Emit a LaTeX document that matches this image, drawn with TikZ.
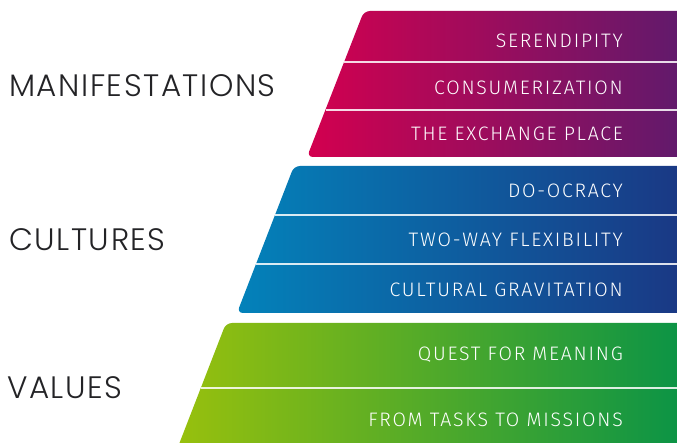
\documentclass[tikz,border=0pt]{standalone}
\usepackage{fontspec}
\newfontfamily\labelfont{Poppins Light}[LetterSpace=5]
\newfontfamily\rowfont{Fira Sans Light}[LetterSpace=9]

% block colours
\definecolor{magL}{RGB}{211,0,79}
\definecolor{magR}{RGB}{91,27,109}
\definecolor{bluL}{RGB}{3,130,186}
\definecolor{bluR}{RGB}{27,53,130}
\definecolor{grnL}{RGB}{154,193,12}
\definecolor{grnR}{RGB}{6,146,72}
\definecolor{labeltext}{RGB}{35,35,38}

\begin{document}
\begin{tikzpicture}[x=1pt,y=-1pt,
  block/.style={rounded corners=6pt},
  divider/.style={draw=white, draw opacity=0.85, line width=1.1pt},
  rowtext/.style={anchor=east, inner sep=0pt, text=white,
    font=\rowfont\fontsize{19.5}{21}\selectfont},
  grouplabel/.style={anchor=west, inner sep=0pt, text=labeltext,
    font=\labelfont\fontsize{31}{33}\selectfont}]
\useasboundingbox (0,0) rectangle (677,443);
\clip (0,0) rectangle (677,443);

% three slanted bands, each fading from left to right
\path[block, left color=magL, right color=magR]
  (364,11) -- (700,11) -- (700,157) -- (307,157) -- cycle;
\path[block, left color=bluL, right color=bluR]
  (294,166) -- (700,166) -- (700,313) -- (237,313) -- cycle;
\path[block, left color=grnL, right color=grnR]
  (226,323) -- (700,323) -- (700,470) -- (169,470) -- cycle;

% thin separators between rows
\coordinate (m1) at (344,62);  \coordinate (m1e) at (677,62);
\coordinate (m2) at (325.5,110); \coordinate (m2e) at (677,110);
\coordinate (b1) at (275,215); \coordinate (b1e) at (677,215);
\coordinate (b2) at (256,264); \coordinate (b2e) at (677,264);
\coordinate (g1) at (201,388); \coordinate (g1e) at (677,388);
\draw[divider] (m1) -- (m1e);
\draw[divider] (m2) -- (m2e);
\draw[divider] (b1) -- (b1e);
\draw[divider] (b2) -- (b2e);
\draw[divider] (g1) -- (g1e);

% row texts (right-aligned)
\node[rowtext] (serendipity) at (623,40.5) {SERENDIPITY};
\node[rowtext] (consumerization) at (623,87.5) {CONSUMERIZATION};
\node[rowtext] (exchange) at (623,134) {THE EXCHANGE PLACE};
\node[rowtext] (doocracy) at (623,191) {DO-OCRACY};
\node[rowtext] (twoway) at (623,240) {TWO-WAY FLEXIBILITY};
\node[rowtext] (gravitation) at (623,290) {CULTURAL GRAVITATION};
\node[rowtext] (quest) at (623,355) {QUEST FOR MEANING};
\node[rowtext] (missions) at (623,420) {FROM TASKS TO MISSIONS};

% group labels
\node[grouplabel] (manifestations) at (9,86) {MANIFESTATIONS};
\node[grouplabel] (cultures) at (9,240) {CULTURES};
\node[grouplabel] (values) at (7,388) {VALUES};
\end{tikzpicture}
\end{document}
